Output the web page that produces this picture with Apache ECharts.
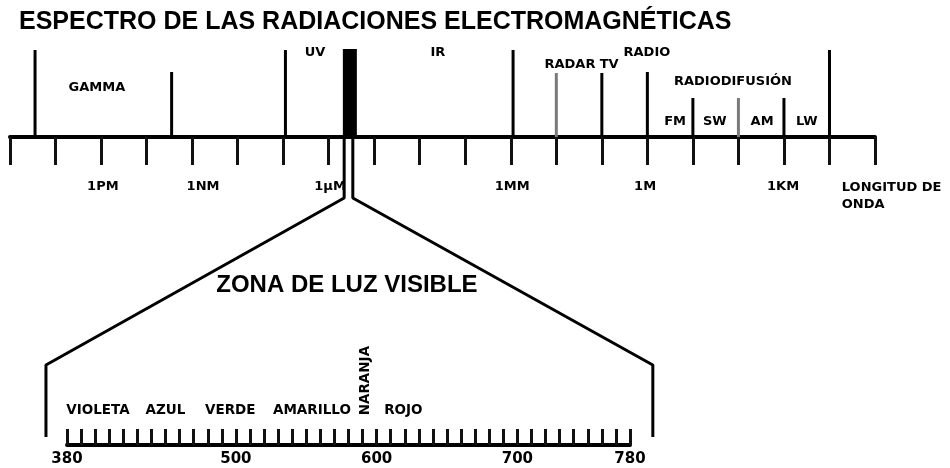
<!DOCTYPE html>
<html>
<head>
<meta charset="utf-8">
<title>Espectro de las radiaciones electromagnéticas</title>
<script src="https://cdn.jsdelivr.net/npm/echarts@6.0.0/dist/echarts.min.js"></script>
<style>
html, body { margin: 0; padding: 0; background: #fff; }
#chart { width: 950px; height: 468px; }
</style>
</head>
<body>
<div id="chart"></div>
<script>
// regla superior: posiciones en divisiones (0..19), alturas sobre la regla
const rulerDivisions = 19;
const dividerPos = [0.55, 3.55, 6.05, 11.05, 12, 13, 14, 15, 16, 17, 18];
const dividerTop = [87, 65, 87, 87, 64, 64, 65, 39, 39, 39, 87];

const bandNames = ['GAMMA', 'UV', 'IR', 'RADAR', 'TV', 'RADIO', 'RADIODIFUSIÓN', 'FM', 'SW', 'AM', 'LW'];
const bandCenters = [1.91, 6.70, 9.40, 12.30, 13.16, 13.99, 15.88, 14.61, 15.48, 16.52, 17.50];
const bandLevels = [49, 84, 84, 72, 72, 84, 55, 15, 15, 15, 15];

const wavelengthLabels = ['1PM', '1NM', '1µM', '1MM', '1M', '1KM'];
const wavelengthPos = [2.04, 4.24, 7.03, 11.03, 13.95, 16.98];

// franja visible sobre la regla y lineas de ampliacion
const visibleBand = [[7.465, 0], [7.465, 88]];
const zoomLeft = [[7.34, 0], [7.34, -61], [0.79, -228], [0.79, -300]];
const zoomRight = [[7.53, 0], [7.53, -61], [14.12, -228], [14.12, -300]];

// zona visible en nm
const nmMin = 380;
const nmMax = 780;
const nmLabels = [380, 500, 600, 700, 780];
const colorNames = ['VIOLETA', 'AZUL', 'VERDE', 'AMARILLO', 'ROJO'];
const colorPos = [402, 450, 496, 554, 619];
const orangeName = 'NARANJA';
const orangePos = 592;

const grayDividers = [4, 8];
const smallFont = { fontFamily: 'DejaVu Sans', fontWeight: 'bold', fontSize: 13, color: '#000' };

let chart = echarts.init(document.getElementById('chart'));

let series = [];

dividerPos.forEach((x, i) => {
  series.push({
    type: 'line', xAxisIndex: 0, yAxisIndex: 0,
    data: [[x, 0], [x, dividerTop[i]]],
    symbol: 'none', silent: true,
    lineStyle: { width: 3, color: grayDividers.indexOf(i) >= 0 ? '#7a7a7a' : '#000' }
  });
});

series.push({
  type: 'line', xAxisIndex: 0, yAxisIndex: 0, data: visibleBand,
  symbol: 'none', silent: true, lineStyle: { width: 14, color: '#000', cap: 'butt' }
});

[zoomLeft, zoomRight].forEach((pts) => {
  series.push({
    type: 'line', xAxisIndex: 0, yAxisIndex: 0, data: pts,
    symbol: 'none', silent: true, lineStyle: { width: 3, color: '#000' }
  });
});

function textSeries(axis, data, label) {
  return {
    type: 'scatter', xAxisIndex: axis, yAxisIndex: axis, symbolSize: 0, silent: true,
    itemStyle: { opacity: 1 },
    data: data,
    label: Object.assign({ show: true, position: 'inside', formatter: '{b}' }, smallFont, label || {})
  };
}

series.push(textSeries(0, bandNames.map((n, i) => ({ name: n, value: [bandCenters[i], bandLevels[i]] }))));
series.push(textSeries(0, wavelengthLabels.map((n, i) => ({ name: n, value: [wavelengthPos[i], -50] }))));
series.push(textSeries(0, [{ name: 'LONGITUD DE\nONDA', value: [18.27, -42] }],
  { align: 'left', verticalAlign: 'top', lineHeight: 17 }));
series.push(textSeries(0, [{ name: 'ZONA DE LUZ VISIBLE', value: [7.40, -148] }],
  { fontFamily: 'Liberation Sans', fontSize: 24 }));
series.push(textSeries(1, colorNames.map((n, i) => ({ name: n, value: [colorPos[i], 30] })),
  { fontSize: 13.5 }));
series.push(textSeries(1, [{ name: orangeName, value: [orangePos, 56] }],
  { fontSize: 13.5, rotate: 90 }));

let option = {
  animation: false,
  backgroundColor: '#fff',
  title: {
    text: 'ESPECTRO DE LAS RADIACIONES ELECTROMAGNÉTICAS',
    left: 14, top: 5,
    textStyle: { fontFamily: 'Liberation Sans', fontWeight: 'bold', fontSize: 25, color: '#000' }
  },
  grid: [
    { left: 10, right: 75, top: 0, bottom: 0, containLabel: false, outerBoundsMode: 'none' },
    { left: 67, right: 320, top: 330, bottom: 23, containLabel: false, outerBoundsMode: 'none' }
  ],
  xAxis: [
    {
      type: 'value', gridIndex: 0, min: 0, max: rulerDivisions, interval: 1,
      axisLine: { onZero: true, lineStyle: { color: '#000', width: 4 } },
      axisTick: { show: true, inside: false, length: 28, lineStyle: { color: '#111', width: 3 } },
      axisLabel: { show: false },
      splitLine: { show: false }
    },
    {
      type: 'value', gridIndex: 1, min: nmMin, max: nmMax, interval: 10,
      axisLine: { lineStyle: { color: '#000', width: 4 } },
      axisTick: { show: true, inside: true, length: 16, lineStyle: { color: '#111', width: 3 } },
      axisLabel: {
        show: true, margin: 7, showMinLabel: true, showMaxLabel: true,
        formatter: (v) => nmLabels.indexOf(v) >= 0 ? String(v) : '',
        fontFamily: 'DejaVu Sans', fontWeight: 'bold', fontSize: 15, color: '#000'
      },
      splitLine: { show: false }
    }
  ],
  yAxis: [
    { type: 'value', gridIndex: 0, min: -331, max: 137, show: false, splitLine: { show: false } },
    { type: 'value', gridIndex: 1, min: 0, max: 100, show: false, splitLine: { show: false } }
  ],
  series: series
};

chart.setOption(option);
</script>
</body>
</html>
